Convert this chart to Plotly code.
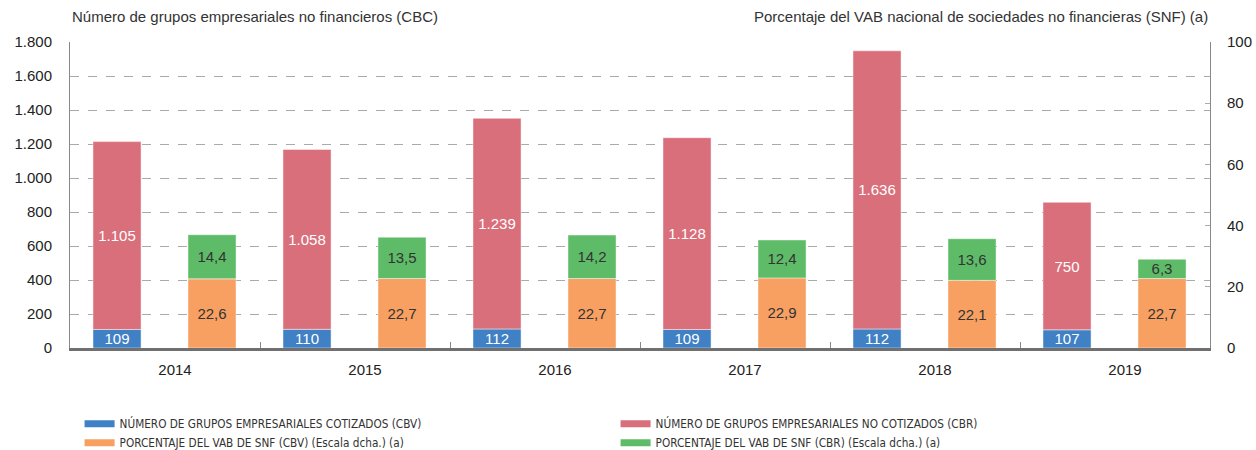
import plotly.graph_objects as go

years = ["2014", "2015", "2016", "2017", "2018", "2019"]
cbv_groups = [109, 110, 112, 109, 112, 107]
cbr_groups = [1105, 1058, 1239, 1128, 1636, 750]
cbv_vab = [22.6, 22.7, 22.7, 22.9, 22.1, 22.7]
cbr_vab = [14.4, 13.5, 14.2, 12.4, 13.6, 6.3]

names = [
    "NÚMERO DE GRUPOS EMPRESARIALES COTIZADOS (CBV)",
    "NÚMERO DE GRUPOS EMPRESARIALES NO COTIZADOS (CBR)",
    "PORCENTAJE DEL VAB DE SNF (CBV) (Escala dcha.) (a)",
    "PORCENTAJE DEL VAB DE SNF (CBR) (Escala dcha.) (a)",
]
colors = ["#4080C4", "#D96F7B", "#F7A062", "#5EBB68"]

W = 0.253
OFF_L = -0.379
OFF_R = 0.121
TXT = dict(family="Liberation Sans, Arial, sans-serif", size=15)

fig = go.Figure()
series = [
    (cbv_groups, "y", OFF_L, "%{y:,}", "white"),
    (cbr_groups, "y", OFF_L, "%{y:,}", "white"),
    (cbv_vab, "y2", OFF_R, "%{y:.1f}", "#333333"),
    (cbr_vab, "y2", OFF_R, "%{y:.1f}", "#333333"),
]
for (vals, ax, off, tt, tc), nm, col in zip(series, names, colors):
    fig.add_trace(go.Bar(x=years, y=vals, name=nm, marker_color=col, width=W, offset=off,
                         yaxis=ax, texttemplate=tt, textposition="inside",
                         insidetextanchor="middle", textangle=0, showlegend=False,
                         textfont=dict(color=tc, **TXT),
                         marker_line=dict(width=1, color="rgba(255,255,255,0.45)")))
# legend entries (thin horizontal swatches as in the reference)
for nm, col in zip(names, colors):
    fig.add_trace(go.Scatter(x=[None], y=[None], mode="lines", name=nm,
                             line=dict(color=col, width=7), showlegend=True))

fig.update_layout(
    width=1256, height=450,
    margin=dict(l=70, r=46, t=42, b=102, autoexpand=False),
    plot_bgcolor="white", paper_bgcolor="white",
    barmode="relative",
    separators=",.",
    uniformtext=dict(minsize=15, mode="show"),
    font=dict(family="Liberation Sans, Arial, sans-serif", size=15, color="#222222"),
    showlegend=True,
    legend=dict(orientation="h", x=0.0084, xanchor="left", y=-0.2, yanchor="top",
                entrywidth=491, entrywidthmode="pixels", traceorder="normal",
                font=dict(family="DejaVu Sans Condensed, Liberation Sans, Arial", size=11.7, color="#333333"),
                itemwidth=30, tracegroupgap=0),
    xaxis=dict(type="category", tickson="boundaries", ticks="inside", ticklen=6,
               tickcolor="#888888", showline=True, linecolor="#707070", linewidth=2.5,
               showgrid=False, tickfont=dict(size=15, color="#222222"), range=[-0.5, 5.5],
               ticklabelstandoff=6, ticklabelshift=10),
    yaxis=dict(range=[0, 1800], dtick=200, tickformat=",d", showline=True,
               linecolor="#888888", linewidth=1, showgrid=True, gridcolor="#AAAAAA",
               griddash="dash", gridwidth=1, ticks="", zeroline=False,
               tickfont=dict(size=15, color="#222222"), ticklabelstandoff=14),
    yaxis2=dict(range=[0, 100], dtick=20, overlaying="y", side="right", showline=True,
                linecolor="#888888", linewidth=1, showgrid=False, ticks="inside",
                ticklen=5, tickcolor="#AAAAAA", zeroline=False,
                tickfont=dict(size=15, color="#222222"), ticklabelstandoff=13),
    annotations=[
        dict(text="Número de grupos empresariales no financieros (CBC)", xref="paper", yref="paper",
             x=0, y=1, yshift=15, xanchor="left", yanchor="bottom", showarrow=False,
             font=dict(size=15, color="#333333")),
        dict(text="Porcentaje del VAB nacional de sociedades no financieras (SNF) (a)", xref="paper",
             yref="paper", x=1, y=1, yshift=15, xanchor="right", yanchor="bottom", showarrow=False,
             font=dict(size=15, color="#333333")),
    ],
)

fig.write_html("out.html", config={"displayModeBar": False},
               post_script="document.body.style.margin='0';")
